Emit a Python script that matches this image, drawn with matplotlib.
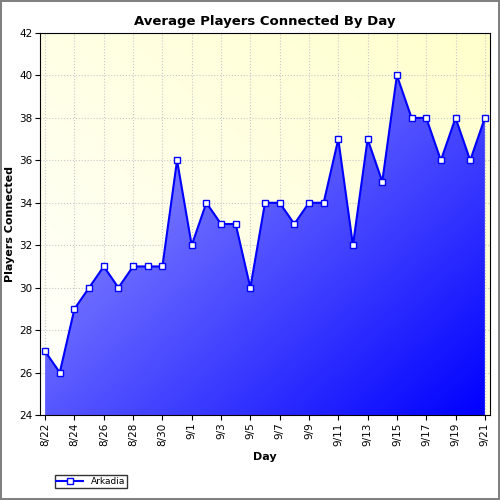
import numpy as np
import matplotlib.pyplot as plt
from matplotlib.patches import Polygon
from matplotlib.lines import Line2D

days = ["8/22", "8/23", "8/24", "8/25", "8/26", "8/27", "8/28", "8/29", "8/30", "8/31",
        "9/1", "9/2", "9/3", "9/4", "9/5", "9/6", "9/7", "9/8", "9/9", "9/10",
        "9/11", "9/12", "9/13", "9/14", "9/15", "9/16", "9/17", "9/18", "9/19", "9/20", "9/21"]
players = [27, 26, 29, 30, 31, 30, 31, 31, 31, 36,
           32, 34, 33, 33, 30, 34, 34, 33, 34, 34,
           37, 32, 37, 35, 40, 38, 38, 36, 38, 36, 38]

fig = plt.figure(figsize=(5, 5), dpi=100)
fig.patch.set_edgecolor("#808080")
fig.patch.set_linewidth(1.5)
ax = fig.add_axes([0.08, 0.17, 0.90, 0.764])
x = np.arange(len(days))
xmin, xmax, ymin, ymax = -0.35, len(days) - 0.65, 24, 42

# background gradient: white bottom-left to pale yellow top-right
gx, gy = np.meshgrid(np.linspace(0, 1, 200), np.linspace(0, 1, 200))
t = np.clip((gx + gy) / 2, 0, 1)
bg = np.ones((200, 200, 3))
bg[..., 2] = 1.0 - 0.2 * t
ax.imshow(bg, extent=[xmin, xmax, ymin, ymax], origin="lower", aspect="auto", zorder=0)

# area fill gradient
t2 = np.clip((gx + (1 - gy)) / 2, 0, 1)
fg = np.zeros((200, 200, 3))
fg[..., 0] = 0.68 * (1 - t2)
fg[..., 1] = 0.68 * (1 - t2)
fg[..., 2] = 1.0
im = ax.imshow(fg, extent=[x[0], x[-1], ymin, ymax], origin="lower", aspect="auto", zorder=1)
poly = Polygon(list(zip(x, players)) + [(x[-1], ymin), (x[0], ymin)], closed=True,
               transform=ax.transData, facecolor="none", edgecolor="none")
ax.add_patch(poly)
im.set_clip_path(poly)

ax.set_axisbelow(True)
ax.grid(True, color="#c8c8c8", linestyle=":", linewidth=0.8)
ax.plot(x, players, color="#0000ff", linewidth=1.5, marker="s", markersize=4.5,
        markerfacecolor="white", markeredgecolor="#0000ff", zorder=3)

ax.set_xlim(xmin, xmax)
ax.set_ylim(ymin, ymax)
ax.set_yticks(range(24, 43, 2))
ax.set_xticks(x[::2])
ax.set_xticklabels(days[::2], rotation=90, fontsize=7.5)
ax.tick_params(axis="y", labelsize=7.5, pad=2)
ax.tick_params(axis="x", pad=2)
ax.set_title("Average Players Connected By Day", fontsize=9.5, fontweight="bold")
ax.set_xlabel("Day", fontsize=8, fontweight="bold")
ax.set_ylabel("Players Connected", fontsize=8, fontweight="bold", labelpad=3)

h = Line2D([], [], color="#0000ff", marker="s", markerfacecolor="white", markersize=4.5)
fig.legend([h], ["Arkadia"], loc="lower left", bbox_to_anchor=(0.1, 0.015), fontsize=6.5,
           frameon=True, fancybox=False, edgecolor="black", borderpad=0.2, handlelength=3)

fig.savefig("out.png", dpi=100, edgecolor=fig.get_edgecolor())
